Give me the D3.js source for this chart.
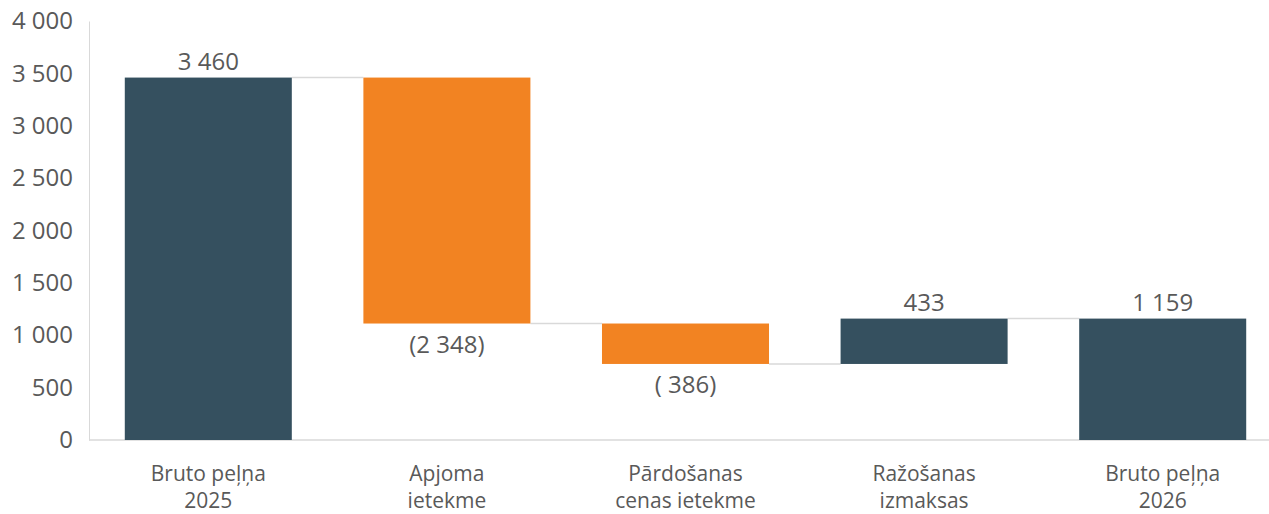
<!DOCTYPE html>
<html>
<head>
<meta charset="utf-8">
<script src="https://cdn.jsdelivr.net/npm/d3@7"></script>
<style>
  body { margin: 0; background: #fff; }
  text { font-family: "Open Sans", "Noto Sans", sans-serif; fill: #595959; }
</style>
</head>
<body>
<script>
// Data
const categories = [
  ['Bruto peļņa', '2025'],
  ['Apjoma', 'ietekme'],
  ['Pārdošanas', 'cenas ietekme'],
  ['Ražošanas', 'izmaksas'],
  ['Bruto peļņa', '2026']
];
const values = [3460, -2348, -386, 433, 1159];
const isTotal = [true, false, false, false, true];
const valueLabels = ['3 460', '(2 348)', '( 386)', '433', '1 159'];
const yTicks = [0, 500, 1000, 1500, 2000, 2500, 3000, 3500, 4000];

const width = 1269;
const height = 514;
const margin = { top: 21, right: 0, bottom: 74, left: 89 };

const svg = d3.select('body')
  .append('svg')
  .attr('width', width)
  .attr('height', height);

// Build waterfall steps
let running = 0;
const steps = values.map((v, i) => {
  let start, end;
  if (isTotal[i]) { start = 0; end = v; running = v; }
  else { start = running; end = running + v; running = end; }
  return { i, v, start, end, label: valueLabels[i], total: isTotal[i] };
});

const x = d3.scaleBand()
  .domain(d3.range(categories.length))
  .range([margin.left, margin.left + 5 * 238.6])
  .paddingInner(0.3)
  .paddingOuter(0.15);

const y = d3.scaleLinear()
  .domain([0, 4000])
  .range([height - margin.bottom, margin.top]);

// y axis
const yAxis = svg.append('g')
  .attr('transform', `translate(${margin.left},0)`)
  .call(d3.axisLeft(y).tickValues(yTicks).tickSize(0).tickPadding(16)
    .tickFormat(d => d3.format(',')(d).replace(/,/g, ' ')));
yAxis.select('.domain').attr('stroke', '#d9d9d9');
yAxis.selectAll('text').attr('font-size', 24).style('fill', '#595959');

// baseline
svg.append('line')
  .attr('x1', margin.left).attr('x2', width)
  .attr('y1', y(0)).attr('y2', y(0))
  .attr('stroke', '#d9d9d9').attr('stroke-width', 1.5);

// connectors
svg.selectAll('line.conn')
  .data(steps.slice(0, -1))
  .enter()
  .append('line')
  .attr('class', 'conn')
  .attr('x1', d => x(d.i) + x.bandwidth())
  .attr('x2', d => x(d.i + 1))
  .attr('y1', d => y(d.end))
  .attr('y2', d => y(d.end))
  .attr('stroke', '#d9d9d9')
  .attr('stroke-width', 1.5);

// bars
svg.selectAll('rect.bar')
  .data(steps)
  .enter()
  .append('rect')
  .attr('class', 'bar')
  .attr('x', d => x(d.i))
  .attr('width', x.bandwidth())
  .attr('y', d => y(Math.max(d.start, d.end)))
  .attr('height', d => Math.abs(y(d.start) - y(d.end)))
  .attr('fill', d => (d.total || d.v > 0) ? '#35505f' : '#f28322');

// value labels
svg.selectAll('text.val')
  .data(steps)
  .enter()
  .append('text')
  .attr('class', 'val')
  .text(d => d.label)
  .attr('x', d => x(d.i) + x.bandwidth() / 2)
  .attr('y', d => d.v >= 0 ? y(Math.max(d.start, d.end)) - 8 : y(Math.min(d.start, d.end)) + 29)
  .attr('text-anchor', 'middle')
  .attr('font-size', 24);

// category labels
const cat = svg.selectAll('text.cat')
  .data(categories)
  .enter()
  .append('text')
  .attr('class', 'cat')
  .attr('text-anchor', 'middle')
  .attr('font-size', 21)
  .attr('x', (d, i) => x(i) + x.bandwidth() / 2);
cat.append('tspan')
  .attr('x', (d, i) => x(i) + x.bandwidth() / 2)
  .attr('y', 481)
  .text(d => d[0]);
cat.append('tspan')
  .attr('x', (d, i) => x(i) + x.bandwidth() / 2)
  .attr('y', 508)
  .text(d => d[1]);
</script>
</body>
</html>
